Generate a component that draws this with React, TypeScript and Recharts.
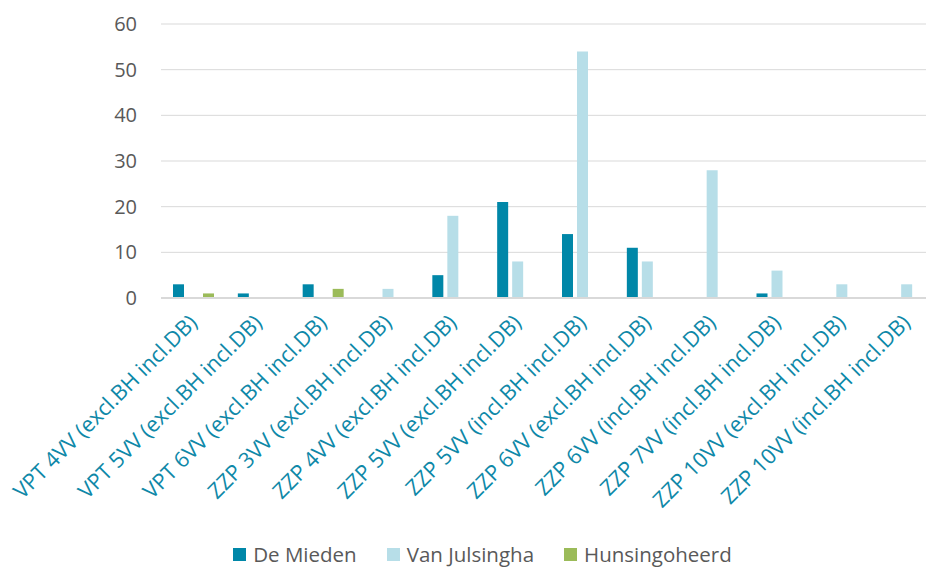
import React from "react";
import { BarChart, Bar, XAxis, YAxis, CartesianGrid, Legend } from "recharts";

const categories = [
  "VPT 4VV (excl.BH incl.DB)",
  "VPT 5VV (excl.BH incl.DB)",
  "VPT 6VV (excl.BH incl.DB)",
  "ZZP 3VV (excl.BH incl.DB)",
  "ZZP 4VV (excl.BH incl.DB)",
  "ZZP 5VV (excl.BH incl.DB)",
  "ZZP 5VV (incl.BH incl.DB)",
  "ZZP 6VV (excl.BH incl.DB)",
  "ZZP 6VV (incl.BH incl.DB)",
  "ZZP 7VV (incl.BH incl.DB)",
  "ZZP 10VV (excl.BH incl.DB)",
  "ZZP 10VV (incl.BH incl.DB)",
];

const deMieden = [3, 1, 3, 0, 5, 21, 14, 11, 0, 1, 0, 0];
const vanJulsingha = [0, 0, 0, 2, 18, 8, 54, 8, 28, 6, 3, 3];
const hunsingoheerd = [1, 0, 2, 0, 0, 0, 0, 0, 0, 0, 0, 0];

const yTicks = [0, 10, 20, 30, 40, 50, 60];

const seriesInfo = [
  { key: "deMieden", name: "De Mieden", color: "#0087A8" },
  { key: "vanJulsingha", name: "Van Julsingha", color: "#B7DEE8" },
  { key: "hunsingoheerd", name: "Hunsingoheerd", color: "#9BBB59" },
];

const data = categories.map((c, i) => ({
  name: c,
  deMieden: deMieden[i],
  vanJulsingha: vanJulsingha[i],
  hunsingoheerd: hunsingoheerd[i],
}));

const FONT = "'Open Sans', sans-serif";

function AngledTick(props: any) {
  const { x, y, payload } = props;
  const ax = x + 5;
  const ay = y + 18;
  return (
    <text
      x={ax}
      y={ay}
      transform={`rotate(-45, ${ax}, ${ay})`}
      textAnchor="end"
      fill="#0E88A8"
      fontSize={21.5}
      fontFamily={FONT}
    >
      {payload.value}
    </text>
  );
}

function LegendRow() {
  return (
    <div
      style={{
        display: "flex",
        justifyContent: "center",
        gap: 30,
        fontFamily: FONT,
        fontSize: 20.5,
        color: "#595959",
        paddingLeft: 26,
        paddingTop: 5,
        lineHeight: "24px",
      }}
    >
      {seriesInfo.map((s) => (
        <div key={s.key} style={{ display: "flex", alignItems: "center" }}>
          <span
            style={{
              width: 13,
              height: 13,
              background: s.color,
              display: "inline-block",
              marginRight: 7,
            }}
          />
          {s.name}
        </div>
      ))}
    </div>
  );
}

export default function App() {
  return (
    <div style={{ width: 926, height: 567, overflow: "hidden", background: "#fff" }}>
      <style>{`body{margin:0}`}</style>
      <BarChart
        width={940}
        height={567}
        data={data}
        margin={{ top: 24, right: 1, bottom: 0, left: 0 }}
        barSize={11}
        barGap={4}
      >
        <CartesianGrid vertical={false} stroke="#D9D9D9" />
        <XAxis
          dataKey="name"
          interval={0}
          height={239}
          tick={<AngledTick />}
          tickLine={false}
          axisLine={{ stroke: "#D9D9D9", strokeWidth: 2 }}
        />
        <YAxis
          width={161}
          domain={[0, 60]}
          ticks={yTicks}
          tickSize={0}
          tickMargin={24}
          axisLine={false}
          tickLine={false}
          tick={{ fill: "#595959", fontSize: 20, fontFamily: FONT }}
        />
        <Legend verticalAlign="bottom" height={30} content={() => <LegendRow />} />
        {seriesInfo.map((s) => (
          <Bar
            key={s.key}
            dataKey={s.key}
            name={s.name}
            fill={s.color}
            isAnimationActive={false}
          />
        ))}
      </BarChart>
    </div>
  );
}
